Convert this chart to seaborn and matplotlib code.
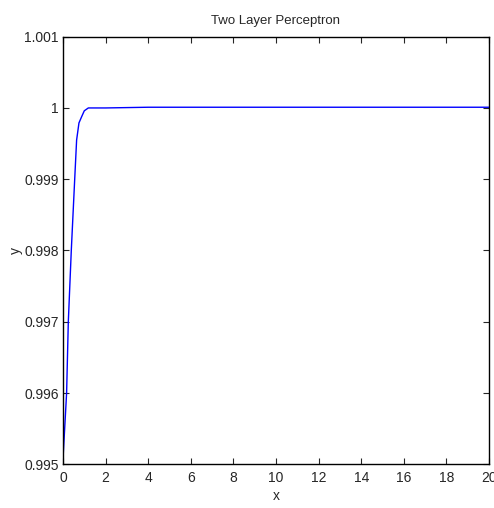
import matplotlib
matplotlib.use("Agg")
import matplotlib.pyplot as plt
import seaborn as sns
import pandas as pd
from matplotlib.ticker import FuncFormatter

x_vals = [0, 0.17, 0.25, 0.39, 0.55, 0.64, 0.75, 0.88, 1.0, 1.19, 2, 4, 10, 20]
y_vals = [0.99507, 0.996, 0.997, 0.998, 0.999, 0.99955, 0.99979, 0.99988, 0.99996,
          1.0, 1.0, 1.00001, 1.00001, 1.00001]
x_ticks = list(range(0, 21, 2))
y_ticks = [0.995, 0.996, 0.997, 0.998, 0.999, 1.0, 1.001]

sns.set_style("ticks")
plt.rcParams['font.family'] = ['Liberation Sans', 'DejaVu Sans']

df = pd.DataFrame({"x": x_vals, "y": y_vals})
fig = plt.figure(figsize=(4.94, 5.08), dpi=100)
ax = fig.add_axes([0.1275, 0.086, 0.8624, 0.8418])
sns.lineplot(data=df, x="x", y="y", ax=ax, color="#0000ff", linewidth=1.0)
ax.set_xlim(0, 20)
ax.set_ylim(0.995, 1.001)
ax.set_xticks(x_ticks)
ax.set_yticks(y_ticks)
ax.yaxis.set_major_formatter(FuncFormatter(lambda v, p: f"{v:g}"))
ax.tick_params(direction="in", length=4, width=0.8, labelsize=10, top=True, right=True)
ax.tick_params(axis="x", pad=5)
ax.tick_params(axis="y", pad=3)
for s in ax.spines.values():
    s.set_visible(True)
    s.set_linewidth(1.0)
    s.set_color("black")
ax.set_title("Two Layer Perceptron", fontsize=9.5, pad=9)
ax.set_xlabel("x", fontsize=10, labelpad=3)
ax.set_ylabel("y", fontsize=10, labelpad=1)
fig.savefig("out.png", dpi=100)
